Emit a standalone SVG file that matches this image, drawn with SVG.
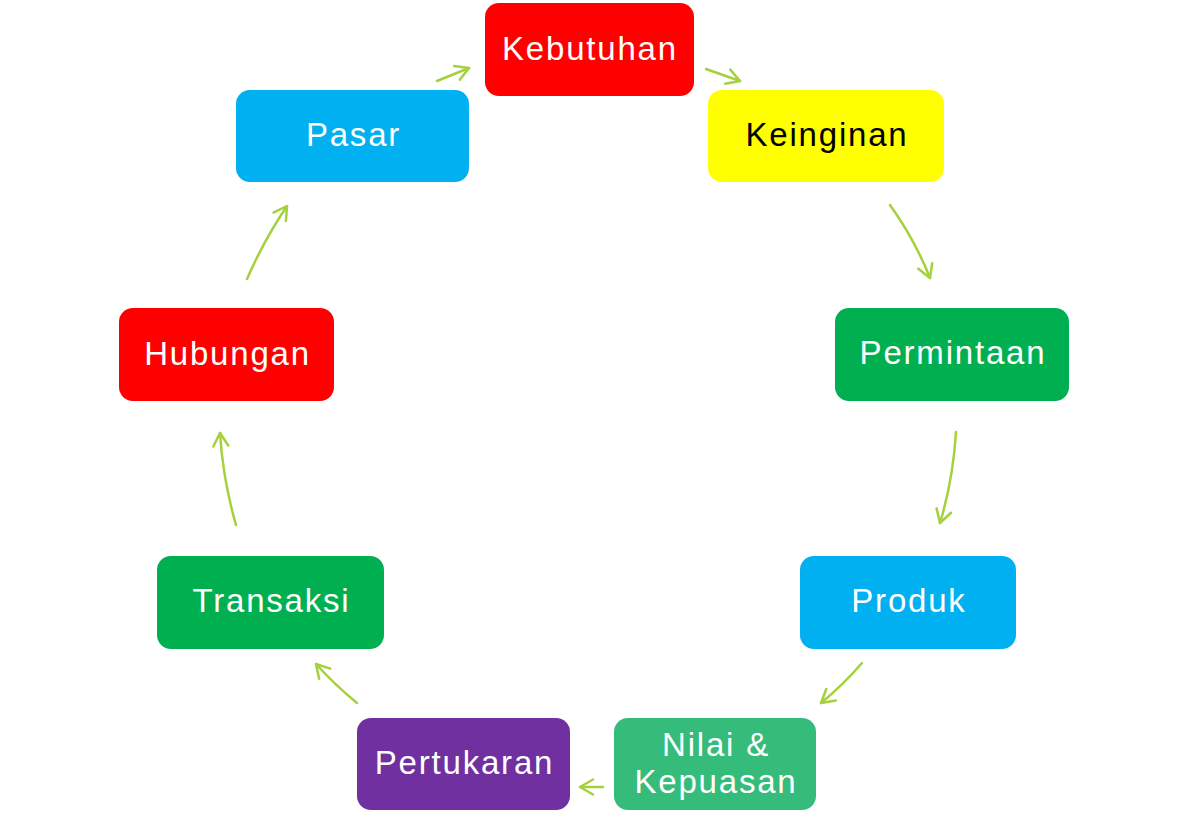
<svg xmlns="http://www.w3.org/2000/svg" width="1188" height="821" viewBox="0 0 1188 821">
<style>
.t{font-family:"Liberation Sans",Arial,sans-serif;font-size:33px;letter-spacing:1.8px;fill:#fff;text-anchor:middle}
.c{fill:none;stroke:#A5D13C;stroke-width:2.5;stroke-linecap:round}
</style>
<defs>
<marker id="ah" viewBox="0 0 22 22" refX="18" refY="11" markerWidth="22" markerHeight="22" markerUnits="userSpaceOnUse" orient="auto">
<path d="M5,3.5 L18,11 L5,18.5" fill="none" stroke="#A5D13C" stroke-width="2.5" stroke-linecap="round" stroke-linejoin="round"/>
</marker>
</defs>
<rect width="1188" height="821" fill="#fff"/>
<g id="connectors">
<path class="c" marker-end="url(#ah)" d="M437,81 L469,68"/>
<path class="c" marker-end="url(#ah)" d="M706,69 L740,81"/>
<path class="c" marker-end="url(#ah)" d="M890,205 Q915,240 930,278"/>
<path class="c" marker-end="url(#ah)" d="M956,432 Q953,480 940,523"/>
<path class="c" marker-end="url(#ah)" d="M862,663 Q843,685 821,703"/>
<path class="c" marker-end="url(#ah)" d="M603,787 L580,787"/>
<path class="c" marker-end="url(#ah)" d="M357,703 Q335,685 316,664"/>
<path class="c" marker-end="url(#ah)" d="M236,525 Q223,480 220,433"/>
<path class="c" marker-end="url(#ah)" d="M247,279 Q264,240 287,206"/>
</g>
<g id="kebutuhan"><rect x="485" y="3" width="209" height="93" rx="14" fill="#FF0000"/><text class="t" x="590" y="60">Kebutuhan</text></g>
<g id="keinginan"><rect x="708" y="90" width="236" height="92" rx="14" fill="#FFFF00"/><text class="t" x="827" y="146" style="fill:#000">Keinginan</text></g>
<g id="pasar"><rect x="236" y="90" width="233" height="92" rx="14" fill="#00B0F0"/><text class="t" x="353.5" y="146">Pasar</text></g>
<g id="permintaan"><rect x="835" y="308" width="234" height="93" rx="14" fill="#00B050"/><text class="t" x="953" y="364">Permintaan</text></g>
<g id="hubungan"><rect x="119" y="308" width="215" height="93" rx="14" fill="#FF0000"/><text class="t" x="227.5" y="365">Hubungan</text></g>
<g id="produk"><rect x="800" y="556" width="216" height="93" rx="14" fill="#00B0F0"/><text class="t" x="909" y="612">Produk</text></g>
<g id="transaksi"><rect x="157" y="556" width="227" height="93" rx="14" fill="#00B050"/><text class="t" x="271.5" y="612">Transaksi</text></g>
<g id="nilai"><rect x="614" y="718" width="202" height="92" rx="14" fill="#35BC7A"/><text class="t" x="716" y="756">Nilai &amp;</text><text class="t" x="716" y="793">Kepuasan</text></g>
<g id="pertukaran"><rect x="357" y="718" width="213" height="92" rx="14" fill="#7030A0"/><text class="t" x="464.5" y="774">Pertukaran</text></g>
</svg>
